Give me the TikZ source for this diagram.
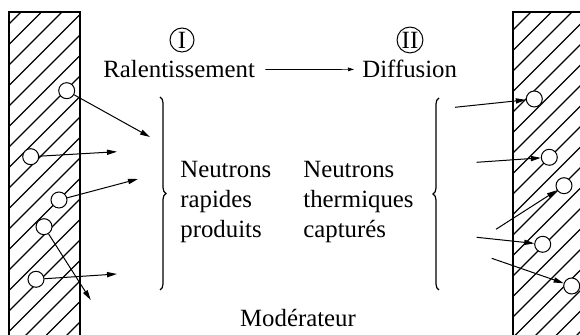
\documentclass[tikz,border=0pt]{standalone}
\usepackage{fontspec}
\setmainfont{Liberation Serif}
\newfontfamily\timesface{Liberation Serif}
\usetikzlibrary{arrows.meta,decorations.pathreplacing}

\begin{document}
\begin{tikzpicture}[
    x=0.5pt, y=-0.5pt,
    txt/.style={font=\timesface\fontsize{12.4}{15}\selectfont, inner sep=0pt},
    hatch/.style={line width=0.7pt},
    wall/.style={line width=0.8pt},
    ball/.style={circle, draw, fill=white, line width=0.5pt, minimum size=8pt, inner sep=0pt},
    arr/.style={-{Triangle[length=5pt,width=2.6pt]}, line width=0.5pt},
    thinarr/.style={-{Triangle[length=3pt,width=1.8pt]}, line width=0.35pt},
    phase/.style={circle, draw, line width=0.5pt, minimum size=12pt, inner sep=0.5pt,
                  font=\timesface\fontsize{12.4}{15}\selectfont},
    bracket/.style={decorate, decoration={brace, amplitude=3pt}, line width=0.6pt},
  ]
    \useasboundingbox (0,0) rectangle (580,335);
    % left wall (source side)
    \begin{scope}
      \clip (9,12) rectangle (80,340);
      \foreach \c in {33,53.5,...,430} { \draw[hatch] (\c,0) -- ++(-430,430); }
    \end{scope}
    \draw[wall] (9,340) -- (9,12) -- (80,12) -- (80,340);
    % right wall (absorber side)
    \begin{scope}
      \clip (513,12) rectangle (585,340);
      \foreach \c in {522.5,543,...,930} { \draw[hatch] (\c,0) -- ++(-430,430); }
    \end{scope}
    \draw[wall] (585,12) -- (513,12) -- (513,340);
    % phases
    \node[phase] (ph1) at (182,40) {I};
    \node[phase] (ph2) at (410,40) {II};
    \node[txt, anchor=base west] (rale) at (103,78) {Ralentissement};
    \node[txt, anchor=base west] (diff) at (362,78) {Diffusion};
    \draw[thinarr] ([xshift=5pt]rale.east) -- ([xshift=-4pt]diff.west);
    % neutrons leaving the left wall
    \node[ball] (nL1) at (66.7,90.7) {};
    \node[ball] (nL2) at (30.7,156.7) {};
    \node[ball] (nL3) at (59,200) {};
    \node[ball] (nL4) at (44,226.7) {};
    \node[ball] (nL5) at (36,279.3) {};
    \coordinate (tL1) at (150,137);
    \coordinate (tL2) at (117,151.7);
    \coordinate (tL3) at (138,179);
    \coordinate (tL4) at (90.7,300);
    \coordinate (tL5) at (117,274);
    \foreach \i in {1,...,5} { \draw[arr] (nL\i) -- (tL\i); }
    % neutrons captured in the right wall
    \node[ball] (nR1) at (534.3,99) {};
    \node[ball] (nR2) at (549.3,157.3) {};
    \node[ball] (nR3) at (564,185.7) {};
    \node[ball] (nR4) at (542.7,244.3) {};
    \node[ball] (nR5) at (571.7,286) {};
    \coordinate (sR1) at (455,107.3);
    \coordinate (sR2) at (476.7,162.3);
    \coordinate (sR3) at (496,229.3);
    \coordinate (sR4) at (476.7,237.3);
    \coordinate (sR5) at (491.7,258.3);
    \foreach \i in {1,...,5} { \draw[arr] (sR\i) -- (nR\i); }
    % braces and texts
    \coordinate (bL1) at (160,97);
    \coordinate (bL2) at (160,290);
    \coordinate (bR1) at (439,290);
    \coordinate (bR2) at (439,98);
    \draw[bracket] (bL1) -- (bL2);
    \draw[bracket] (bR1) -- (bR2);
    \node[txt, anchor=north west, align=left] (fast) at (180,161) {Neutrons\\rapides\\produits};
    \node[txt, anchor=north west, align=left] (slow) at (303,161) {Neutrons\\thermiques\\captur\'es};
    \node[txt, anchor=base] (mod) at (298,327) {Mod\'erateur};
\end{tikzpicture}
\end{document}
